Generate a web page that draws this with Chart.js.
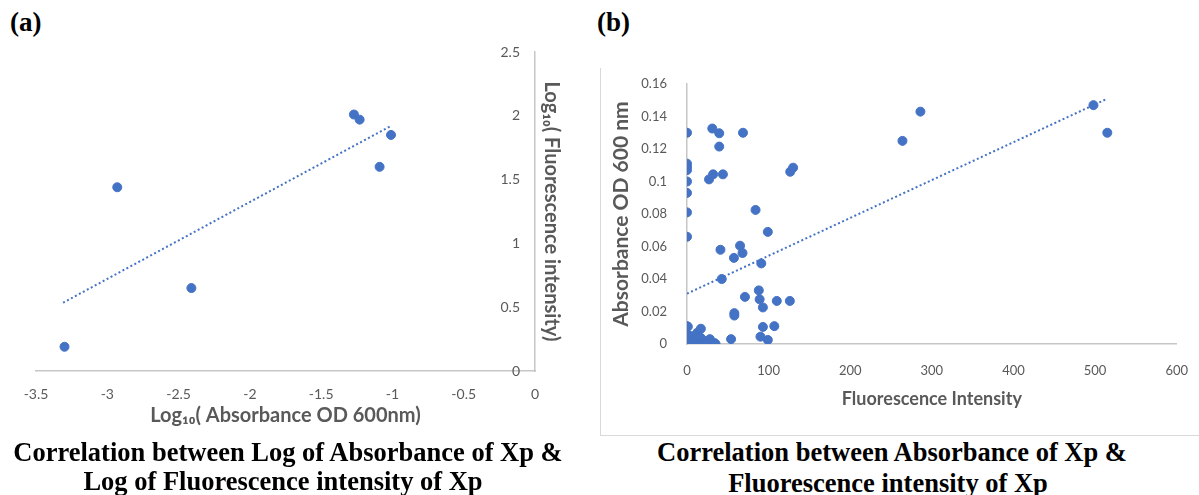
<!DOCTYPE html>
<html><head><meta charset="utf-8">
<script src="https://cdn.jsdelivr.net/npm/chart.js@4.4.1/dist/chart.umd.min.js"></script>
<style>
html,body{margin:0;padding:0;background:#fff;width:1199px;height:495px;overflow:hidden;position:relative}
.lbl{position:absolute;font-family:"Liberation Serif","Times New Roman",serif;font-weight:bold;color:#000;white-space:nowrap;line-height:1}
.cap{position:absolute;font-family:"Liberation Serif","Times New Roman",serif;font-weight:bold;font-size:26.5px;text-align:center;white-space:nowrap;color:#000;line-height:1}
#frame{position:absolute;left:600px;top:68px;width:599px;height:368px;border-left:1px solid #d9d9d9;border-bottom:1px solid #d9d9d9;box-sizing:border-box}
</style></head><body>
<div class="lbl" style="left:10px;top:9px;font-size:27px">(a)</div>
<div class="lbl" style="left:597px;top:9px;font-size:27px">(b)</div>
<div id="frame"></div>
<div style="position:absolute;left:0;top:40px;width:580px;height:400px"><canvas id="ca"></canvas></div>
<div style="position:absolute;left:601px;top:60px;width:598px;height:374px"><canvas id="cb"></canvas></div>
<div class="cap" style="left:0;width:576px;top:439px">Correlation between Log of Absorbance of Xp &amp;</div>
<div class="cap" style="left:0;width:566px;top:468px">Log of Fluorescence intensity of Xp</div>
<div class="cap" style="left:600px;width:584px;top:439px">Correlation between Absorbance of Xp &amp;</div>
<div class="cap" style="left:600px;width:576px;top:470px">Fluorescence intensity of Xp</div>
<script>
// ---- Panel (a) data: log10 absorbance vs log10 fluorescence ----
const logAbs = [-3.30, -2.93, -2.41, -1.27, -1.23, -1.09, -1.01];
const logFluor = [0.19, 1.44, 0.65, 2.01, 1.97, 1.60, 1.85];
const trendAX = [-3.31, -1.02];
const trendAY = [0.535, 1.915];
const ticksAX = [-3.5, -3, -2.5, -2, -1.5, -1, -0.5, 0];
const ticksAY = [0, 0.5, 1, 1.5, 2, 2.5];

// ---- Panel (b) data: fluorescence intensity vs absorbance OD600 ----
const fluor = [
  0, 0, 0, 0, 0, 0, 0, 0, 0, 0, 0, 0, 0,
  1, 3, 6, 6, 8, 10.5, 12.6, 14, 15, 17, 17, 20, 23, 25, 28, 30, 33.6, 35,
  54, 58, 58, 71, 88, 89, 93, 110, 126, 93, 107, 90, 99,
  42.6, 41, 57.5, 65, 68, 91, 99, 84,
  27, 32, 44, 31, 39.5, 39.5, 68.6, 126.5, 130,
  264, 286, 498, 515
];
const absorb = [
  0.066, 0.081, 0.093, 0.100, 0.107, 0.109, 0.111, 0.130, 0.011, 0.006, 0.003, 0.001, 0,
  0.0107, 0.002, 0.0048, 0.0006, 0, 0.0017, 0.0069, 0, 0.004, 0.0094, 0.0037, 0.001, 0.0017, 0.0003, 0.003, 0.001, 0.0006, 0,
  0.003, 0.019, 0.0175, 0.029, 0.033, 0.0275, 0.0225, 0.0265, 0.0265, 0.0105, 0.011, 0.0045, 0.0025,
  0.040, 0.058, 0.053, 0.0605, 0.056, 0.0496, 0.069, 0.0825,
  0.1013, 0.1044, 0.1044, 0.1326, 0.1297, 0.1215, 0.130, 0.106, 0.1085,
  0.125, 0.143, 0.147, 0.130
];
const trendBX = [0, 513];
const trendBY = [0.031, 0.1505];
const ticksBX = [0, 100, 200, 300, 400, 500, 600];
const ticksBY = [0, 0.02, 0.04, 0.06, 0.08, 0.1, 0.12, 0.14, 0.16];

const BLUE = '#4472C4';
const GREY = '#595959';
const AXIS = '#c6c6c6';
const FONT = 'Lato, "Open Sans", sans-serif';

function pts(xs, ys){ return xs.map((x,i)=>({x:x, y:ys[i]})); }
function fixTicks(list){ return function(scale){ scale.ticks = list.map(v=>({value:v})); }; }
const plain = v => String(v);

new Chart(document.getElementById('ca'), {
  type: 'scatter',
  data: { datasets: [
    { data: pts(logAbs, logFluor), backgroundColor: BLUE, borderColor: BLUE, pointRadius: 4.5, pointHoverRadius: 4.5, showLine:false },
    { data: pts(trendAX, trendAY), showLine: true, borderColor: BLUE, borderWidth: 2, borderDash: [2, 2.5], pointRadius: 0, fill:false }
  ]},
  options: {
    responsive: true, maintainAspectRatio: false, animation: false,
    layout: { padding: { left: 36, top: 12, right: 5, bottom: 0 } },
    plugins: { legend: { display: false }, tooltip: { enabled: false } },
    scales: {
      x: {
        type: 'linear', min: -3.5, max: 0,
        afterBuildTicks: fixTicks(ticksAX),
        afterFit: s => { s.height = 69; },
        grid: { display: false },
        border: { display: true, color: AXIS, width: 1.5 },
        ticks: { color: GREY, font: { family: FONT, size: 14 }, padding: 7, maxRotation: 0, callback: plain },
        title: { display: true, text: 'Log\u2081\u2080( Absorbance OD 600nm)', color: GREY,
                 font: { family: FONT, size: 20, weight: 'bold' }, padding: { top: 2, bottom: 12 } }
      },
      y: {
        type: 'linear', position: 'right', min: 0, max: 2.5,
        afterBuildTicks: fixTicks(ticksAY),
        afterFit: s => { s.width = 40; },
        grid: { display: false },
        border: { display: true, color: AXIS, width: 1.5 },
        ticks: { color: GREY, font: { family: FONT, size: 14 }, mirror: true, padding: -15, callback: plain },
        title: { display: true, text: 'Log\u2081\u2080( Fluorescence intensity)', color: GREY,
                 font: { family: FONT, size: 20, weight: 'bold' }, padding: { top: 12, bottom: 2 } }
      }
    }
  }
});

new Chart(document.getElementById('cb'), {
  type: 'scatter',
  data: { datasets: [
    { data: pts(fluor, absorb), backgroundColor: BLUE, borderColor: BLUE, pointRadius: 4.5, pointHoverRadius: 4.5, showLine:false },
    { data: pts(trendBX, trendBY), showLine: true, borderColor: BLUE, borderWidth: 2, borderDash: [2, 2.5], pointRadius: 0, fill:false }
  ]},
  options: {
    responsive: true, maintainAspectRatio: false, animation: false,
    layout: { padding: { left: 0, top: 24, right: 16, bottom: 0 } },
    plugins: { legend: { display: false }, tooltip: { enabled: false } },
    scales: {
      x: {
        type: 'linear', min: 0, max: 600,
        afterBuildTicks: fixTicks(ticksBX),
        afterFit: s => { s.height = 90; },
        grid: { display: false },
        border: { display: true, color: AXIS, width: 1.5 },
        ticks: { color: GREY, font: { family: FONT, size: 13 }, padding: 11, maxRotation: 0, callback: plain },
        title: { display: true, text: 'Fluorescence Intensity', color: GREY,
                 font: { family: FONT, size: 18, weight: 'bold' }, padding: { top: 2, bottom: 24 } }
      },
      y: {
        type: 'linear', position: 'left', min: 0, max: 0.16,
        afterBuildTicks: fixTicks(ticksBY),
        afterFit: s => { s.width = 86; },
        grid: { display: false },
        border: { display: true, color: AXIS, width: 1.5 },
        ticks: { color: GREY, font: { family: FONT, size: 13 }, padding: 12, callback: plain },
        title: { display: true, text: 'Absorbance OD 600 nm', color: GREY,
                 font: { family: FONT, size: 21, weight: 'bold' }, padding: { top: 8, bottom: 2 } }
      }
    }
  }
});
</script>
</body></html>
